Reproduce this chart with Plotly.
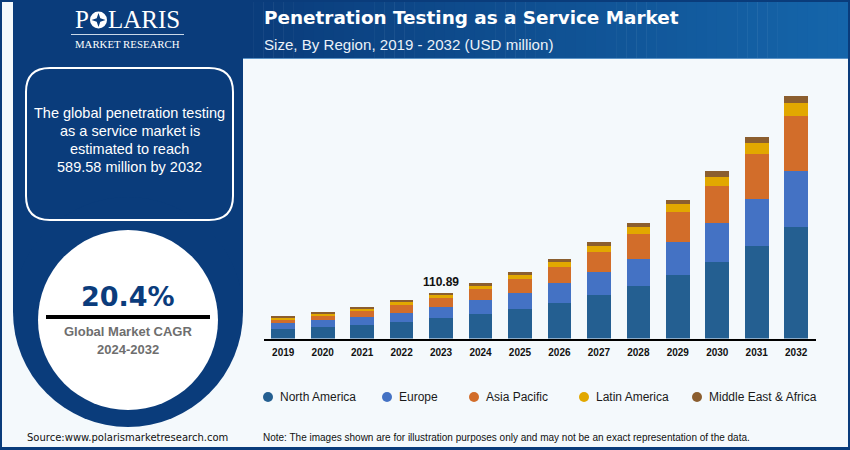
import plotly.graph_objects as go

W, H = 850, 450

# Datos (USD million)
years = ["2019", "2020", "2021", "2022", "2023", "2024", "2025", "2026", "2027", "2028", "2029", "2030", "2031", "2032"]
north_america = [22.6, 27.4, 32.3, 40.5, 49.3, 59.0, 71.1, 86.6, 104.8, 126.9, 153.6, 185.2, 224.0, 271.1]
europe = [14.6, 16.3, 19.4, 22.6, 27.7, 34.0, 39.8, 47.6, 56.1, 66.5, 80.1, 95.6, 115.0, 135.9]
asia_pacific = [9.7, 10.4, 14.6, 17.7, 21.8, 26.7, 33.0, 38.8, 48.5, 59.7, 72.8, 88.8, 108.2, 132.38]
latin_america = [4.1, 5.8, 5.8, 6.6, 7.3, 7.3, 9.7, 13.1, 14.6, 17.0, 19.4, 23.5, 27.7, 33.2]
middle_east = [3.2, 3.9, 3.9, 5.6, 4.79, 7.3, 7.3, 8.0, 9.0, 9.7, 11.4, 12.9, 14.6, 17.0]

region_names = ["North America", "Europe", "Asia Pacific", "Latin America", "Middle East & Africa"]
region_values = [north_america, europe, asia_pacific, latin_america, middle_east]
region_colors = ["#245F91", "#4472C4", "#D26D2A", "#E2A800", "#8B5E2F"]
legend_x = [268, 387, 474, 584, 697]

box_lines = ["The global penetration testing", "as a service market is", "estimated to reach", "589.58 million by 2032"]

NAVY = "#0A3C7B"
PALE = "#F4F9FC"


def px(x):
    return x / W


def py(y):
    return 1 - y / H


def rect(x0, y0, x1, y1, color, **kw):
    return dict(type="rect", xref="paper", yref="paper", x0=px(x0), x1=px(x1), y0=py(y0), y1=py(y1),
                fillcolor=color, line_width=0, layer="below", **kw)


def circle(cx, cy, r, color, layer="below"):
    return dict(type="circle", xref="paper", yref="paper", x0=px(cx - r), x1=px(cx + r), y0=py(cy - r), y1=py(cy + r),
                fillcolor=color, line_width=0, layer=layer)


def label(x, y, text, size, color="#FFFFFF", family="Liberation Sans", anchor="center"):
    return dict(xref="paper", yref="paper", x=px(x), y=py(y), text=text, showarrow=False, xanchor=anchor,
                yanchor="middle", font=dict(size=size, color=color, family=family))


def blend(t):
    c0, c1 = (10, 60, 123), (21, 101, 170)
    return "rgb(%d,%d,%d)" % tuple(round(a + (b - a) * t) for a, b in zip(c0, c1))


fig = go.Figure()
for name, values, color in zip(region_names, region_values, region_colors):
    fig.add_trace(go.Bar(x=years, y=values, name=name, marker_color=color, marker_line_width=0))

# Fondo, marco y cabecera con degradado
shapes = [rect(0, 0, W, H, NAVY), rect(2, 2, 848, 447, PALE)]
steps = 60
for i in range(steps):
    x0 = 243 + (848 - 243) * i / steps
    x1 = 243 + (848 - 243) * (i + 1) / steps + 0.5
    shapes.append(rect(x0, 2, min(x1, 848), 59, blend(i / (steps - 1))))
shapes.append(rect(243, 58, 848, 59, "#5B93C7"))

# Panel izquierdo
shapes.append(rect(13, 2, 243, 312, NAVY))
shapes.append(circle(128, 312, 115, NAVY))
shapes.append(circle(128, 320, 90, "#FFFFFF"))
shapes.append(dict(type="line", xref="paper", yref="paper", x0=px(46), x1=px(210), y0=py(317), y1=py(317),
                   line=dict(color="#000000", width=4)))
shapes.append(dict(type="path", xref="paper", yref="paper", layer="below", line=dict(color="#FFFFFF", width=2),
                   path="M {} {} L {} {} Q {} {} {} {} L {} {} Q {} {} {} {} L {} {} Q {} {} {} {} L {} {} Q {} {} {} {} Z".format(
                       px(50), py(68), px(209), py(68),
                       px(233), py(68), px(233), py(92),
                       px(233), py(196),
                       px(233), py(220), px(209), py(220),
                       px(50), py(220),
                       px(26), py(220), px(26), py(196),
                       px(26), py(92),
                       px(26), py(68), px(50), py(68))))

# Logo
shapes.append(circle(98.5, 20, 8.5, "#FFFFFF", layer="above"))
shapes.append(dict(type="path", xref="paper", yref="paper", fillcolor=NAVY, line_width=0,
                   path="M {} {} L {} {} L {} {} L {} {} L {} {} L {} {} L {} {} L {} {} Z".format(
                       px(98.5), py(13), px(100.3), py(18.2), px(105.5), py(20), px(100.3), py(21.8),
                       px(98.5), py(27), px(96.7), py(21.8), px(91.5), py(20), px(96.7), py(18.2))))
shapes.append(rect(71, 34, 184, 35, "#C9D8E8"))

annotations = [
    label(82, 20, "P", 25, family="Liberation Serif"),
    label(144, 20, "LARIS", 25, family="Liberation Serif"),
    label(128, 44, "MARKET RESEARCH", 10.8, family="Liberation Serif"),
    label(262, 17, "<b>Penetration Testing as a Service Market</b>", 18.4, family="DejaVu Sans", anchor="left"),
    label(262, 44.5, "Size, By Region, 2019 - 2032 (USD million)", 15.1, color="#EAF1F8", anchor="left"),
    label(127.5, 296, "<b>20.4%</b>", 27, color="#0B3C7C", family="DejaVu Sans"),
    label(127.5, 331, "<b>Global Market CAGR</b>", 13, color="#6E6E6E"),
    label(128, 349, "<b>2024-2032</b>", 13, color="#6E6E6E"),
    label(128, 437, "Source:www.polarismarketresearch.com", 10, color="#111111", family="DejaVu Sans"),
    label(261, 437, "Note: The images shown are for illustration purposes only and may not be an exact representation of the data.",
          10, color="#111111", anchor="left"),
]
for i, line in enumerate(box_lines):
    annotations.append(label(129.5, 113 + 18 * i, line, 14.5))

# Leyenda dibujada a mano: puntos redondos y huecos desiguales como en el original
for x, name, color in zip(legend_x, region_names, region_colors):
    shapes.append(circle(x, 397, 5, color))
    annotations.append(label(x + 10, 396.5, name, 12, color="#1A1A1A", anchor="left"))

# Etiqueta del total de 2023
i_2023 = years.index("2023")
total_2023 = sum(values[i_2023] for values in region_values)
annotations.append(dict(x=i_2023, y=total_2023, xref="x", yref="y", text="<b>%.2f</b>" % total_2023, showarrow=False,
                        yanchor="bottom", yshift=2, font=dict(size=12, color="#111111", family="Liberation Sans")))

fig.update_layout(
    width=W, height=H, margin=dict(l=0, r=0, t=0, b=0), barmode="stack", bargap=0.4,
    paper_bgcolor=PALE, plot_bgcolor="rgba(0,0,0,0)", showlegend=False,
    shapes=shapes, annotations=annotations,
    xaxis=dict(domain=[px(263.5), px(815.9)], type="category", range=[-0.5, 13.5], showgrid=False, showline=True,
               linecolor="#000000", linewidth=1.5, ticks="outside", ticklen=4, tickcolor="rgba(0,0,0,0)",
               automargin=False, tickfont=dict(size=10, color="#111111", family="Liberation Sans", weight="bold")),
    yaxis=dict(domain=[py(338.5), py(70)], range=[0, 651.6], visible=False, automargin=False),
)

fig.write_html("out.html", post_script="document.body.style.margin='0';", config={"displayModeBar": False})
